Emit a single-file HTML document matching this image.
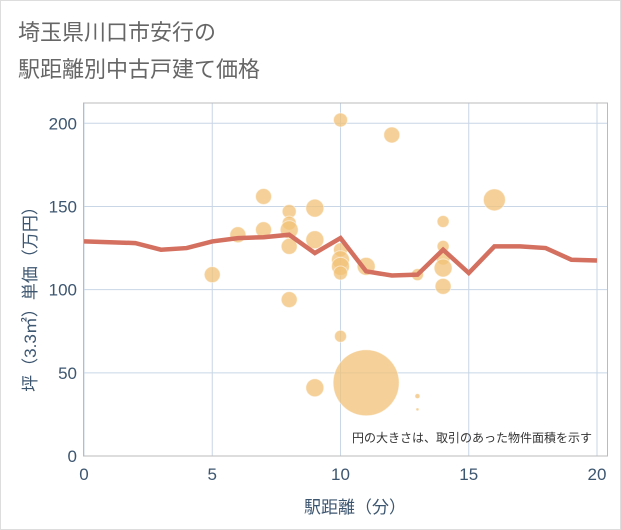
<!DOCTYPE html>
<html><head><meta charset="utf-8"><style>
body{margin:0;background:#fff}
svg{display:block;font-family:"Liberation Sans","Noto Sans CJK JP",sans-serif}
</style></head><body>
<svg id="chart" width="621" height="530" viewBox="0 0 621 530">
<rect x="0.5" y="0.5" width="620" height="529" fill="#fff" stroke="#ddd"/>
<text x="18" y="40" font-size="22" fill="#666">埼玉県川口市安行の</text>
<text x="18" y="77" font-size="22" fill="#666">駅距離別中古戸建て価格</text>
<g id="grid"></g>
<g id="bubbles"></g>
<g id="line"></g>
<rect x="83.5" y="103" width="524" height="353" fill="none" stroke="#bbb" stroke-width="1"/>
<g id="ticks"></g>
<text x="592" y="442" font-size="12" fill="#333" text-anchor="end">円の大きさは、取引のあった物件面積を示す</text>
<text x="355" y="513" font-size="17" fill="#3d5670" text-anchor="middle">駅距離（分）</text>
<text transform="translate(36,295) rotate(-90)" font-size="17" fill="#3d5670" text-anchor="middle">坪（3.3㎡）単価（万円）</text>
</svg>
<script>
const xTicks=[0,5,10,15,20];
const yTicks=[0,50,100,150,200];
const lineX=[0,1,2,3,4,5,6,7,8,9,10,11,12,13,14,15,16,17,18,19,20];
const lineY=[129,128.5,128,124,125,129,131,131.5,133,122,131,111,108.5,109,124,110,126,126,125,118,117.5];
const bubX=[5,6,7,7,8,8,8,8,8,9,9,9,10,10,10,10,10,10,11,11,12,13,13,13,14,14,14,14,14,16];
const bubY=[109,133,156,136,147,140,136,126,94,149,130,41,202,124,118,114,110,72,114,44,193,109,36,28,141,126,119,113,102,154];
const bubR=[8,8,8,8,7,7,9,8,8,9,9,9,7,7,9,9,7,6,9,33,8,6,2.5,1.5,6,6,7,9,8,11];
const NS='http://www.w3.org/2000/svg';
const X0=84,X1=597,Y0=456,YS=(456-123.3)/200;
const sx=v=>X0+(X1-X0)*v/20, sy=v=>Y0-v*YS;
function mk(tag,attrs,parent,txt){const e=document.createElementNS(NS,tag);for(const k in attrs)e.setAttribute(k,attrs[k]);if(txt!==undefined)e.textContent=txt;document.getElementById(parent).appendChild(e);return e;}
xTicks.forEach(t=>{
 const g=mk('line',{x1:sx(t),x2:sx(t),y1:103,y2:456,stroke:'#c8d6e6','stroke-width':1},'grid');
 
 
 const l=mk('text',{x:sx(t),y:480,'font-size':17,fill:'#3d5670','text-anchor':'middle'},'ticks',String(t));
 
 
});
yTicks.forEach(t=>{
 const g=mk('line',{x1:84,x2:607,y1:sy(t),y2:sy(t),stroke:'#c8d6e6','stroke-width':1},'grid');
 
 
 const l=mk('text',{x:77,y:sy(t)+6,'font-size':17,fill:'#3d5670','text-anchor':'end'},'ticks',String(t));
 
 
});
bubX.forEach((x,i)=>{
 const c=mk('circle',{cx:sx(x),cy:sy(bubY[i]),r:bubR[i],fill:'#f2c177','fill-opacity':0.75,stroke:'#fff','stroke-opacity':0.5,'stroke-width':1},'bubbles');
 
 
});
const p=mk('polyline',{points:lineX.map((x,i)=>sx(x)+','+sy(lineY[i])).join(' '),fill:'none',stroke:'#d4705f','stroke-width':4.5,'stroke-linejoin':'miter'},'line');


</script>
</body></html>
